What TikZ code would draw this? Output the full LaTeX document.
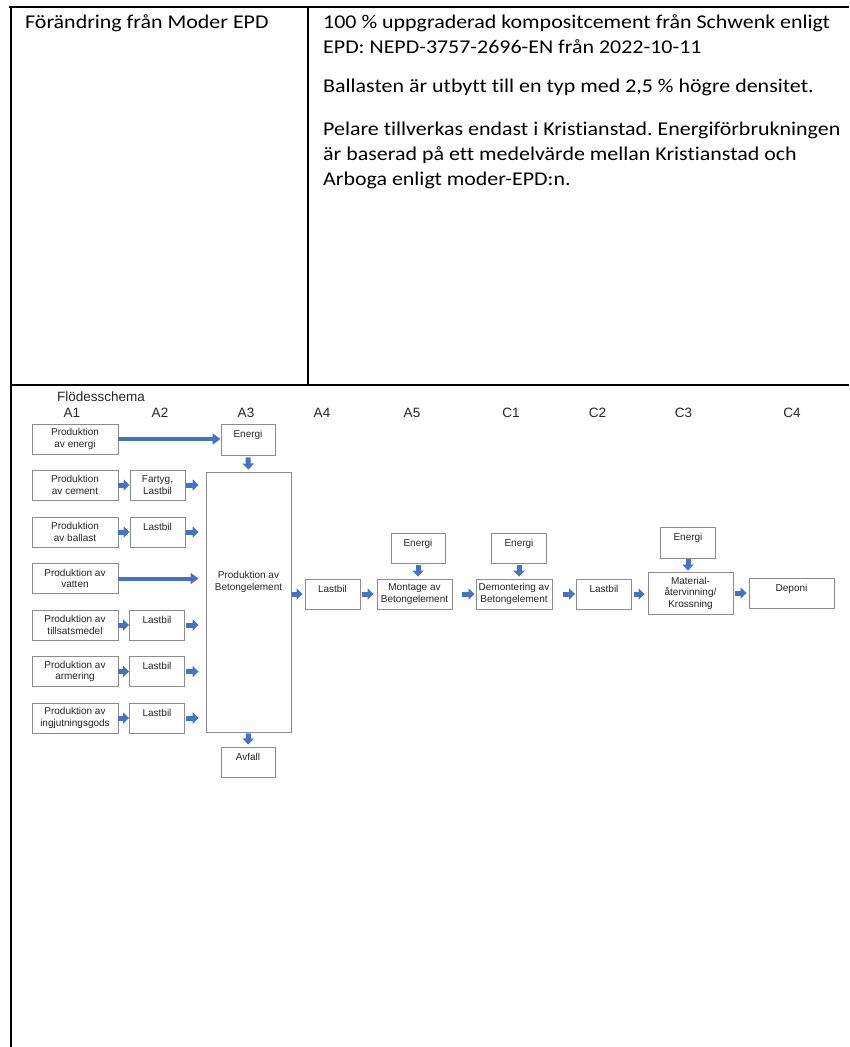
\documentclass[tikz,border=0pt]{standalone}
\usepackage{fontspec}
\setmainfont{Liberation Sans}
\newfontfamily\calfont[FakeStretch=1.125,Ligatures=NoCommon]{Carlito}
\usetikzlibrary{arrows.meta}
\definecolor{arrblue}{HTML}{4472C4}
\definecolor{boxgray}{HTML}{8C8C8C}
\frenchspacing
\begin{document}
\begin{tikzpicture}[x=1pt,y=-1pt,
  boxbase/.style={draw=boxgray, line width=0.9pt, inner sep=0pt, font=\fontsize{10}{11.5}\selectfont, text=black!85, minimum height=30pt},
  fbox/.style={boxbase, align=center},
  topbox/.style={boxbase, text height=13pt, text depth=17pt},
  barrow/.style={draw=arrblue, line width=5pt, -{Triangle[width=11pt,length=6pt]}},
  larrow/.style={draw=arrblue, line width=4pt, -{Triangle[width=11pt,length=8pt]}},
  tabtext/.style={anchor=base west, inner sep=0pt, font=\calfont\fontsize{19.5}{25}\selectfont},
  collabel/.style={inner sep=0pt, font=\fontsize{13.5}{16}\selectfont, text=black!85},
  tabline/.style={draw=black, line width=2pt}
]
\useasboundingbox (0,0) rectangle (849,1047);
\fill[white] (0,0) rectangle (849,1047);

% table frame
\draw[tabline] (9,7) -- (849,7);
\draw[tabline] (11,6) -- (11,1047);
\draw[tabline] (308,7) -- (308,385);
\draw[draw=black, line width=1.3pt] (11,385) -- (849,385);
\draw[draw=black, line width=2.6pt] (11,385) -- (25,385);
\draw[draw=black, line width=2.6pt] (837,385) -- (849,385);

% table text
\node[tabtext] (t0) at (25,28) {Förändring från Moder EPD};
\node[tabtext] (t1) at (323,28) {100 \% uppgraderad kompositcement från Schwenk enligt};
\node[tabtext] (t2) at (323,53) {EPD: NEPD-3757-2696-EN från 2022-10-11};
\node[tabtext] (t3) at (323,92) {Ballasten är utbytt till en typ med 2,5 \% högre densitet.};
\node[tabtext] (t4) at (323,135) {Pelare tillverkas endast i Kristianstad. Energiförbrukningen};
\node[tabtext] (t5) at (323,160) {är baserad på ett medelvärde mellan Kristianstad och};
\node[tabtext] (t6) at (323,185) {Arboga enligt moder-EPD:n.};

% flow chart labels
\node[collabel, anchor=west] (fs) at (57,397) {Flödesschema};
\node[collabel] (lA1) at (72,413) {A1};
\node[collabel] (lA2) at (160,413) {A2};
\node[collabel] (lA3) at (246,413) {A3};
\node[collabel] (lA4) at (322,413) {A4};
\node[collabel] (lA5) at (412,413) {A5};
\node[collabel] (lC1) at (511,413) {C1};
\node[collabel] (lC2) at (597.5,413) {C2};
\node[collabel] (lC3) at (683.5,413) {C3};
\node[collabel] (lC4) at (792,413) {C4};

% A1 column
\node[fbox, minimum width=86pt] (p0) at (75,439) {Produktion\\av energi};
\node[fbox, minimum width=86pt] (p1) at (75,485) {Produktion\\av cement};
\node[fbox, minimum width=86pt] (p2) at (75,532) {Produktion\\av ballast};
\node[fbox, minimum width=86pt] (p3) at (75,578.5) {Produktion av\\vatten};
\node[fbox, minimum width=86pt] (p4) at (75,625) {Produktion av\\tillsatsmedel};
\node[fbox, minimum width=86pt] (p5) at (75,671.5) {Produktion av\\armering};
\node[fbox, minimum width=86pt] (p6) at (75,718) {Produktion av\\ingjutningsgods};

% A2 column
\node[fbox, minimum width=55pt] (q1) at (157.5,485) {Fartyg,\\Lastbil};
\node[topbox, minimum width=55pt] (q2) at (157.5,532) {Lastbil};
\node[topbox, minimum width=55pt] (q4) at (157,625) {Lastbil};
\node[topbox, minimum width=55pt] (q5) at (157,671.5) {Lastbil};
\node[topbox, minimum width=55pt] (q6) at (157,718) {Lastbil};

% A3
\node[topbox, minimum width=54pt, minimum height=31pt] (e3) at (248,439.5) {Energi};
\node[fbox, minimum width=85pt, minimum height=260pt] (big) at (248.5,602) {};
\node[inner sep=0pt, align=center, font=\fontsize{10}{11.5}\selectfont, text=black!85] (bigt) at (248.5,582) {Produktion av\\Betongelement};
\node[topbox, minimum width=54pt] (avf) at (248,762) {Avfall};

% right chain
\node[topbox, minimum width=55pt] (l4) at (332.5,594) {Lastbil};
\node[fbox, minimum width=75pt] (mon) at (414.5,594) {Montage av\\Betongelement};
\node[topbox, minimum width=54pt] (em) at (418,548) {Energi};
\node[fbox, minimum width=76pt] (dem) at (514,594) {Demontering av\\Betongelement};
\node[topbox, minimum width=54.5pt] (ed) at (519,548) {Energi};
\node[topbox, minimum width=55pt] (l2) at (604,594) {Lastbil};
\node[fbox, minimum width=85pt, minimum height=42pt] (mat) at (690.5,593) {Material-\\återvinning/\\Krossning};
\node[topbox, minimum width=55pt, minimum height=31pt] (emat) at (688,542.5) {Energi};
\node[topbox, minimum width=85pt] (dep) at (791.5,593) {Deponi};

% arrows A1 -> A2 -> big
\draw[larrow] (p0.east) -- (e3.west |- p0.east);
\foreach \a/\b in {p1/q1,p2/q2,p4/q4,p5/q5,p6/q6}{
  \draw[barrow] (\a.east) -- (\b.west);
  \draw[barrow] ([xshift=1pt]\b.east) -- ([xshift=-7pt]big.west |- \b.east);
}
\draw[larrow] (p3.east) -- ([xshift=-7pt]big.west |- p3.east);

% vertical arrows
\draw[barrow, shorten <=2pt, shorten >=2pt] (e3.south) -- (big.north);
\draw[barrow, shorten <=1pt, shorten >=2pt] (big.south) -- (avf.north);
\draw[barrow, shorten <=2pt, shorten >=2pt] (em.south) -- (em.south |- mon.north);
\draw[barrow, shorten <=2pt, shorten >=2pt] (ed.south) -- (ed.south |- dem.north);
\draw[barrow, shorten <=1pt, shorten >=1pt] (emat.south) -- (emat.south |- mat.north);

% horizontal chain arrows
\draw[barrow] ([xshift=1pt]big.east |- l4.west) -- ([xshift=-2pt]l4.west);
\draw[barrow, shorten <=2pt, shorten >=3pt] (l4.east) -- (mon.west);
\draw[barrow, shorten <=10pt, shorten >=1pt] (mon.east) -- (dem.west);
\draw[barrow, shorten <=11pt, shorten >=1pt] (dem.east) -- (l2.west);
\draw[barrow, shorten <=2pt, shorten >=3pt] (l2.east) -- (l2.east -| mat.west);
\draw[barrow, shorten <=2pt, shorten >=2pt] (mat.east |- dep.west) -- (dep.west);
\end{tikzpicture}
\end{document}
